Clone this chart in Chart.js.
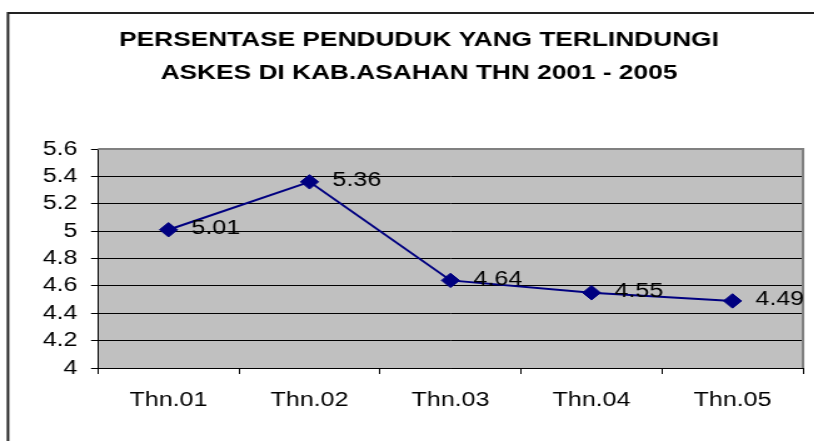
<!DOCTYPE html>
<html>
<head>
<meta charset="utf-8">
<script src="https://cdn.jsdelivr.net/npm/chart.js@4/dist/chart.umd.min.js"></script>
<style>
  html, body { margin: 0; padding: 0; overflow: hidden; background: #ffffff; }
  #wrap { position: absolute; left: 0; top: 0; width: 670px; height: 460px;
          transform: scaleX(1.2507); transform-origin: 0 0; }
  #c { display: block; }
</style>
</head>
<body>
<div id="wrap"><canvas id="c" width="670" height="460"></canvas></div>
<script>
const titleLines = ['PERSENTASE PENDUDUK YANG TERLINDUNGI', 'ASKES DI KAB.ASAHAN THN 2001 - 2005'];
const categories = ['Thn.01', 'Thn.02', 'Thn.03', 'Thn.04', 'Thn.05'];
const values = [5.01, 5.36, 4.64, 4.55, 4.49];
const yMin = 4;
const yMax = 5.6;
const yStep = 0.2;

const FONT = "Arial, 'Liberation Sans', sans-serif";
// the reference text is horizontally wide; canvas is drawn narrow and shown stretched
const SX = 1.2507;
const SIDE = 670 - 803 / SX; // equal side padding keeps the title centred

const frame = {
  id: 'frame',
  beforeDraw(chart) {
    const ctx = chart.ctx;
    const a = chart.chartArea;
    ctx.save();
    ctx.fillStyle = '#ffffff';
    ctx.fillRect(0, 0, chart.width, chart.height);
    ctx.strokeStyle = '#222222';
    ctx.lineWidth = 2;
    ctx.strokeRect(8 / SX, 13, 822 / SX, 440);
    ctx.fillStyle = '#c0c0c0';
    ctx.fillRect(a.left, a.top, a.right - a.left, a.bottom - a.top);
    ctx.restore();
  },
  beforeDatasetsDraw(chart) {
    const ctx = chart.ctx;
    const a = chart.chartArea;
    ctx.save();
    ctx.strokeStyle = '#808080';
    ctx.lineWidth = 2;
    ctx.beginPath();
    ctx.moveTo(a.left, a.top);
    ctx.lineTo(a.right, a.top);
    ctx.lineTo(a.right, a.bottom);
    ctx.stroke();
    ctx.restore();
  }
};

const valueLabels = {
  id: 'valueLabels',
  afterDatasetsDraw(chart) {
    const ctx = chart.ctx;
    const meta = chart.getDatasetMeta(0);
    ctx.save();
    ctx.font = '20px ' + FONT;
    ctx.fillStyle = '#000000';
    ctx.textAlign = 'left';
    ctx.textBaseline = 'middle';
    meta.data.forEach((pt, i) => {
      ctx.fillText(String(values[i]), pt.x + 23 / SX, pt.y - 1);
    });
    ctx.restore();
  }
};

new Chart(document.getElementById('c'), {
  type: 'line',
  data: {
    labels: categories,
    datasets: [{
      data: values,
      borderColor: '#000080',
      backgroundColor: '#000080',
      borderWidth: 2,
      pointStyle: 'rectRot',
      pointRadius: 7.2,
      pointHoverRadius: 7.2,
      pointBackgroundColor: '#000080',
      pointBorderColor: '#000080',
      pointBorderWidth: 1,
      tension: 0,
      fill: false
    }]
  },
  options: {
    responsive: false,
    devicePixelRatio: 1,
    animation: false,
    events: [],
    layout: { padding: { left: SIDE, right: SIDE, top: 0, bottom: 48 } },
    plugins: {
      legend: { display: false },
      tooltip: { enabled: false },
      title: {
        display: true,
        text: titleLines,
        color: '#000000',
        font: { family: FONT, size: 21, weight: 'bold', lineHeight: 33 / 21 },
        padding: { top: 24, bottom: 59 }
      }
    },
    scales: {
      x: {
        type: 'category',
        offset: true,
        afterFit(scale) { scale.height = 44; },
        grid: {
          display: true,
          drawOnChartArea: false,
          drawTicks: true,
          tickLength: 6,
          offset: true,
          color: '#000000'
        },
        border: { display: true, color: '#000000', width: 1 },
        ticks: {
          color: '#000000',
          font: { family: FONT, size: 20 },
          padding: 14,
          maxRotation: 0,
          autoSkip: false
        }
      },
      y: {
        min: yMin,
        max: yMax,
        afterFit(scale) { scale.width = 98 / SX - SIDE; },
        grid: {
          color: (c) => (c.tick && Math.abs(c.tick.value - yMax) < 1e-9) ? '#808080' : '#000000',
          lineWidth: 1,
          drawTicks: true,
          tickLength: 7 / SX,
          tickColor: '#000000'
        },
        border: { display: true, color: '#000000', width: 1 },
        ticks: {
          stepSize: yStep,
          autoSkip: false,
          color: '#000000',
          font: { family: FONT, size: 20 },
          padding: 13.5 / SX,
          callback: (v) => String(Number(Number(v).toFixed(1)))
        }
      }
    }
  },
  plugins: [frame, valueLabels]
});
</script>
</body>
</html>
